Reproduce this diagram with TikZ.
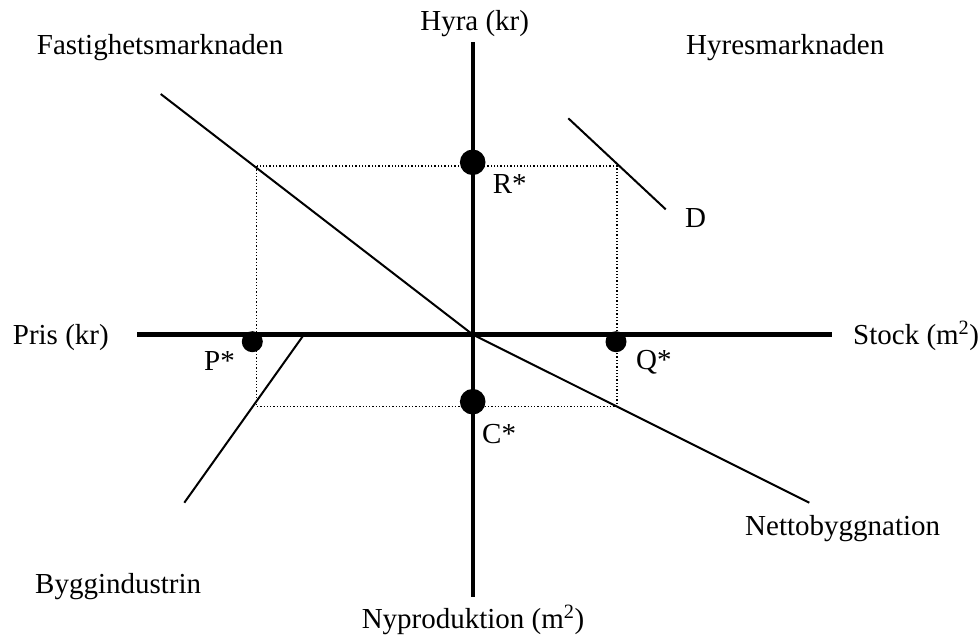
\documentclass[tikz,border=0pt]{standalone}
\usepackage{fontspec}
\setmainfont{Liberation Serif}
\begin{document}
\begin{tikzpicture}[x=1pt,y=-1pt,
  lbl/.style={inner sep=0pt,font=\fontsize{29}{34}\selectfont},
  axis/.style={line width=4.3pt},
  curve/.style={line width=2pt},
  guide/.style={line width=1.3pt,dash pattern=on 1.3pt off 2pt},
  bigdot/.style={circle,fill=black,inner sep=0pt,minimum size=25.6pt},
  smalldot/.style={circle,fill=black,inner sep=0pt,minimum size=21pt}]
\useasboundingbox (0,0) rectangle (980,638);
% coordinates
\coordinate (vtop) at (472.7,42);
\coordinate (vbot) at (472.7,597);
\coordinate (hleft) at (137,334.5);
\coordinate (hright) at (832.3,334.5);
\coordinate (O) at (472.7,334.5);
\coordinate (g1) at (256.7,166);
\coordinate (g2) at (617,406.7);
\coordinate (f1) at (160.7,94);
\coordinate (n2) at (809.3,502.7);
\coordinate (d1) at (568.3,118.3);
\coordinate (d2) at (665.7,209.3);
\coordinate (b1) at (304,334.5);
\coordinate (b2) at (184.3,502.7);
% guides
\draw[guide] (g1) rectangle (g2);
% curves
\draw[curve] (f1) -- (O);
\draw[curve] (O) -- (n2);
\draw[curve] (d1) -- (d2);
\draw[curve] (b1) -- (b2);
% axes
\draw[axis] (vtop) -- (vbot);
\draw[axis] (hleft) -- (hright);
% dots
\node[bigdot] (R) at (472.7,162.3) {};
\node[bigdot] (C) at (472.7,401.7) {};
\node[smalldot] (P) at (252.3,341.7) {};
\node[smalldot] (Q) at (616,341.7) {};
% labels
\node[lbl,anchor=base west] (tF) at (36.7,54.3) {Fastighetsmarknaden};
\node[lbl,anchor=base west] (tH) at (686,54.3) {Hyresmarknaden};
\node[lbl,anchor=base] (tY) at (474.7,30) {Hyra (kr)};
\node[lbl,anchor=base west] (tP) at (12.7,344) {Pris (kr)};
\node[lbl,anchor=base west] (tS) at (853,344) {Stock (m\textsuperscript{2})};
\node[lbl,anchor=base west] (tPs) at (204,370) {P*};
\node[lbl,anchor=base west] (tQs) at (636,369) {Q*};
\node[lbl,anchor=base west] (tRs) at (492.7,193) {R*};
\node[lbl,anchor=base west] (tCs) at (482,443) {C*};
\node[lbl,anchor=base west] (tD) at (685,227) {D};
\node[lbl,anchor=base west] (tN) at (745,535) {Nettobyggnation};
\node[lbl,anchor=base west] (tB) at (35,593) {Byggindustrin};
\node[lbl,anchor=base] (tNy) at (473,628) {Nyproduktion (m\textsuperscript{2})};
\end{tikzpicture}
\end{document}
